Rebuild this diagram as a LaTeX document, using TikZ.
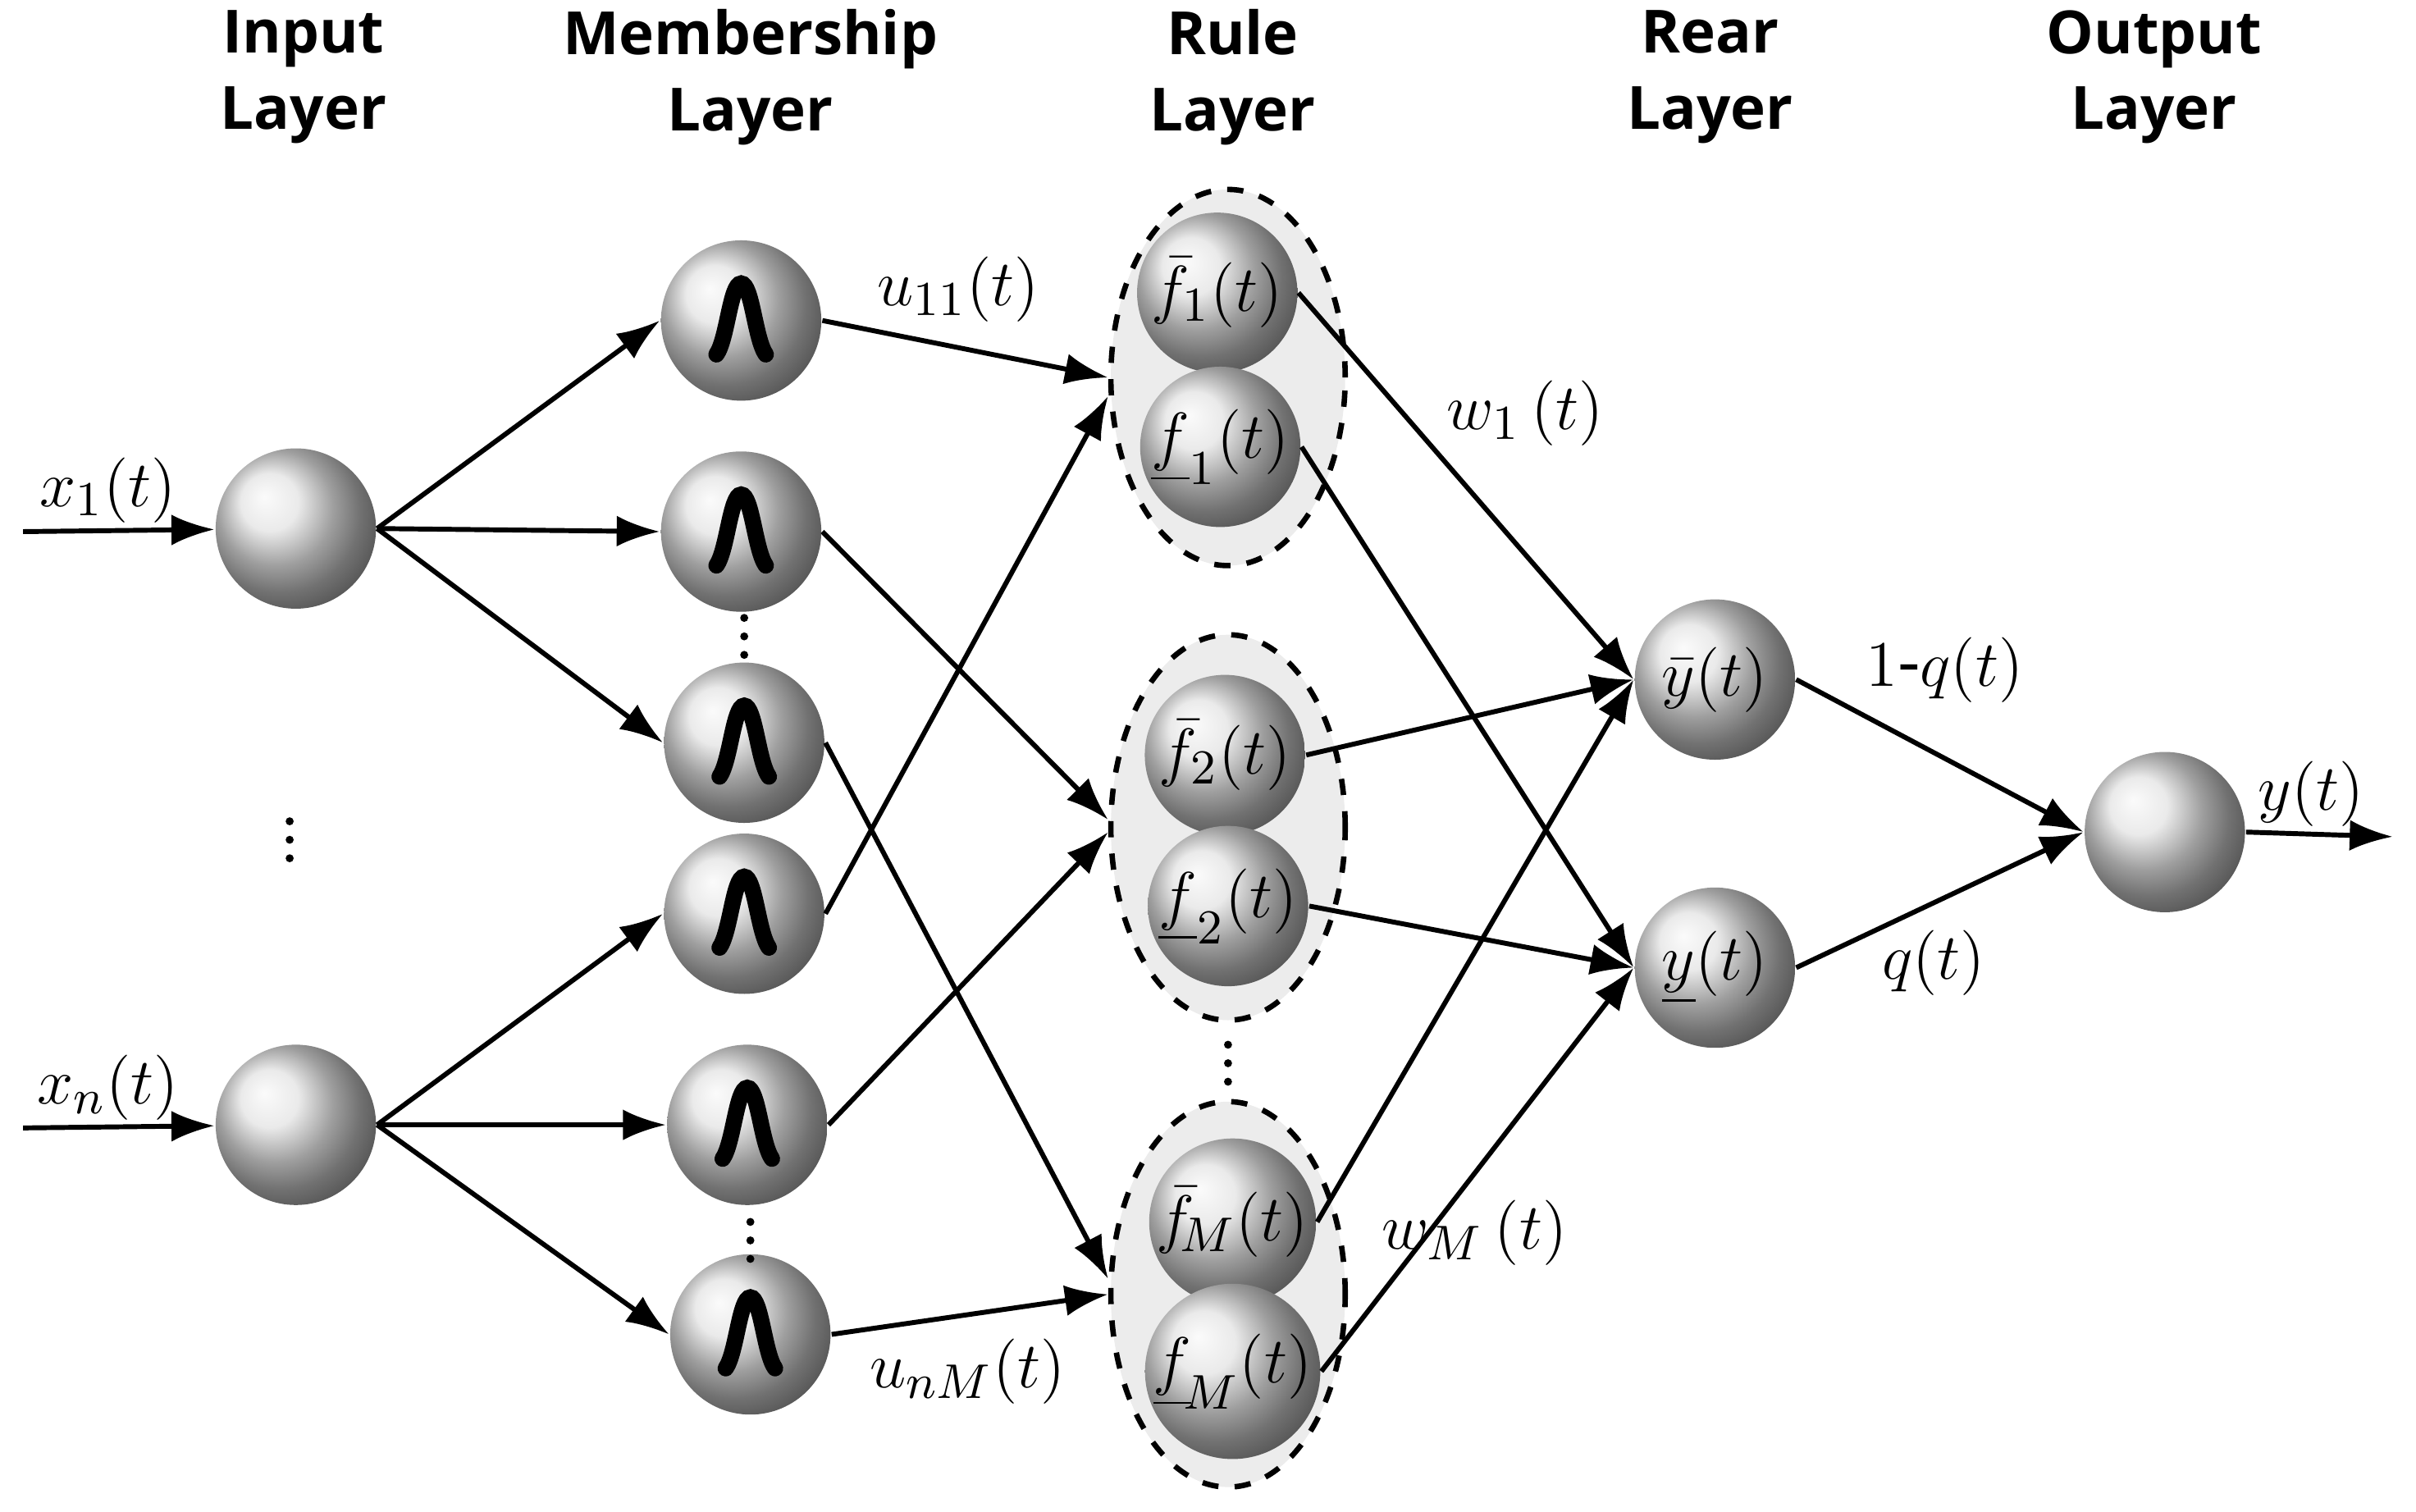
\documentclass[tikz,border=0pt]{standalone}
\usepackage{fontspec}
\setmainfont{Open Sans}
\usetikzlibrary{arrows.meta,shapes.geometric}
\begin{document}
\begin{tikzpicture}[x=0.01cm,y=-0.01cm,
  ball/.style={circle,minimum size=1.04cm,inner sep=0pt,shading=ball,ball color=gray!22!white},
  arr/.style={-{Latex[length=0.28cm,width=0.2cm]},line width=0.9pt},
  hdr/.style={font=\fontsize{11}{14}\selectfont\bfseries,align=center},
  lab/.style={font=\fontsize{13}{15}\selectfont},
  ell/.style={draw,dashed,line width=1pt,fill=gray!15,ellipse,minimum width=1.52cm}]
\useasboundingbox (0,0) rectangle (1568,981);
% headers
\node[hdr] (h1) at (197,50) {Input\\Layer};
\node[hdr] (h2) at (487,50) {Membership\\Layer};
\node[hdr] (h3) at (800,50) {Rule\\Layer};
\node[hdr] (h4) at (1110,50) {Rear\\Layer};
\node[hdr] (h5) at (1398,50) {Output\\Layer};
% ellipses
\node[ell,minimum height=2.44cm] (e1) at (797,245) {};
\node[ell,minimum height=2.5cm] (e2) at (797,537) {};
\node[ell,minimum height=2.5cm] (e3) at (797,840) {};
% input
\node[ball] (x1) at (192,343) {};
\node[ball] (xn) at (192,730) {};
% membership
\foreach \n/\x/\y in {m1/481/208,m2/481/345,m3/483/482,m4/483/593,m5/485/730,m6/487/866}{
  \node[ball] (\n) at (\x,\y) {};
  \draw[line width=3pt,line cap=round] (\x-16,\y+22) .. controls (\x-9,\y+12) and (\x-7,\y-24) .. (\x,\y-24) .. controls (\x+7,\y-24) and (\x+9,\y+12) .. (\x+16,\y+22);
}
% rule
\tikzset{rl/.style={ball,font=\fontsize{13}{15}\selectfont}}
\node[rl] (f1b) at (790,190) {$\bar{f}_{1}(t)$};
\node[rl] (f1l) at (792,290) {${\underline{f}}_{1}(t)$};
\node[rl] (f2b) at (795,490) {$\bar{f}_{2}(t)$};
\node[rl] (f2l) at (797,588) {${\underline{f}}_{2}(t)$};
\node[rl] (fMb) at (800,793) {$\bar{f}_{\!M}(t)$};
\node[rl] (fMl) at (800,890) {${\underline{f}}_{\!M}(t)$};
% rear
\node[rl] (yb) at (1113,441) {$\bar{y}(t)$};
\node[rl] (yl) at (1113,628) {$\underline{y}(t)$};
% output
\node[ball] (out) at (1405,540) {};
% coordinates
\coordinate (in1) at (15,345);
\coordinate (inn) at (15,732);
\coordinate (oe) at (1553,543);
\draw[arr] (in1) -- (x1);
\draw[arr] (inn) -- (xn);
\draw[arr] (out.east) -- (oe);
\foreach \a/\b in {x1/m1,x1/m2,x1/m3,xn/m4,xn/m5,xn/m6}{\draw[arr] (\a.east) -- (\b.west);}
\draw[arr] (m1.east) -- (e1.west);
\draw[arr] (m4.east) -- ([yshift=-0.12cm]e1.west);
\draw[arr] (m2.east) -- ([yshift=0.05cm]e2.west);
\draw[arr] (m5.east) -- ([yshift=-0.03cm]e2.west);
\draw[arr] (m3.east) -- ([yshift=0.1cm]e3.west);
\draw[arr] (m6.east) -- (e3.west);
\draw[arr] (f1b.east) -- (yb.west);
\draw[arr] (f2b.east) -- (yb.west);
\draw[arr] (fMb.east) -- (yb.west);
\draw[arr] (f1l.east) -- (yl.west);
\draw[arr] (f2l.east) -- (yl.west);
\draw[arr] (fMl.east) -- (yl.west);
\draw[arr] (yb.east) -- (out.west);
\draw[arr] (yl.east) -- (out.west);
% labels
\node[lab] (l1) at (70,318) {$x_1(t)$};
\node[lab] (l2) at (70,706) {$x_n(t)$};
\node[lab] (l3) at (622,188) {$u_{11}(t)$};
\node[lab] (l4) at (628,890) {$u_{nM}(t)$};
\node[lab] (l5) at (990,268) {$w_1\,(t)$};
\node[lab] (l6) at (957,800) {$w_M\,(t)$};
\node[lab] (l7) at (1262,435) {$1$-$q(t)$};
\node[lab] (l8) at (1255,625) {$q(t)$};
\node[lab] (l9) at (1500,515) {$y(t)$};
% dots
\foreach \x/\y in {483/413,188/545,487/805,797/690}{
  \foreach \d in {-12,0,12}{\fill (\x,\y+\d) circle (2.6);}
}
\end{tikzpicture}
\end{document}
